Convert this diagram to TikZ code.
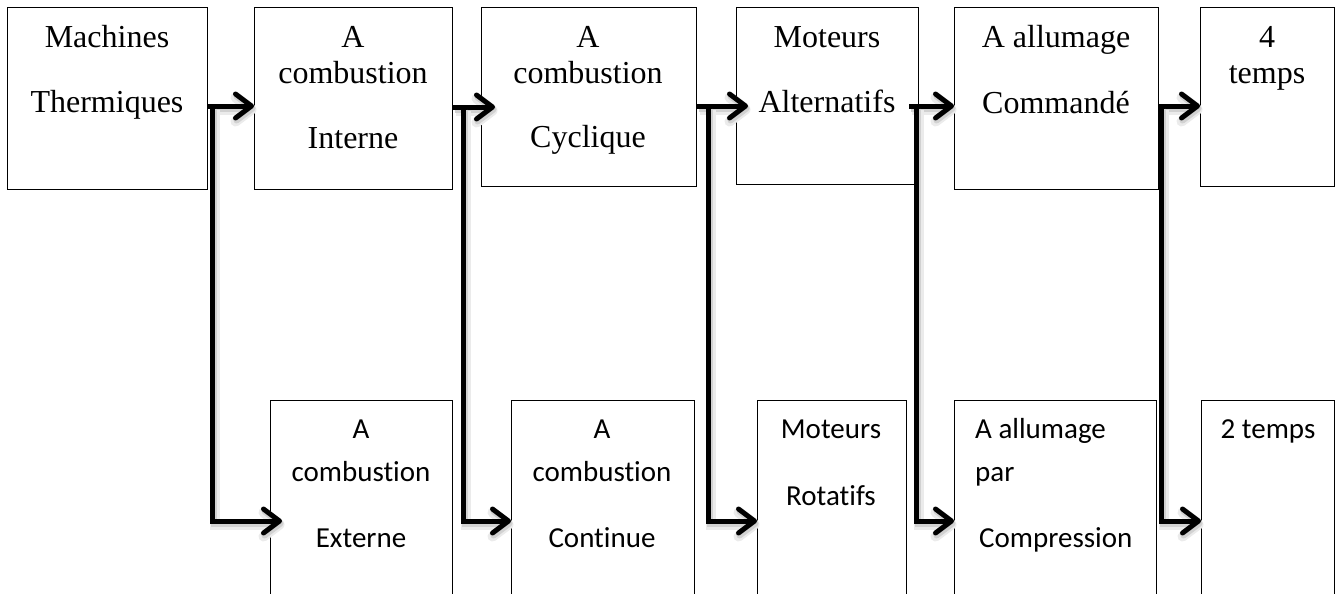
\documentclass[tikz,border=0pt]{standalone}
\usepackage{fontspec}
\setmainfont{Liberation Serif}
\newfontfamily\calib[Ligatures={NoCommon}]{Carlito}
\usetikzlibrary{arrows.meta}
\begin{document}
\begin{tikzpicture}[x=1pt,y=-1pt,
  box/.style={draw, line width=1pt, rectangle, inner sep=0pt, anchor=north west},
  st/.style={font=\fontsize{32}{36}\selectfont, anchor=base, inner sep=0pt},
  ss/.style={font=\calib\fontsize{29}{35}\selectfont, anchor=base, inner sep=0pt},
  ssl/.style={ss, anchor=base west},
  conn/.style={line width=5pt, -{Straight Barb[length=16pt,width=24pt,round]},
    preaction={draw=black!8, line width=10pt, transform canvas={shift={(2.5pt,-3.5pt)}}},
    preaction={draw=black!18, line width=6pt, transform canvas={shift={(1.5pt,-2.5pt)}}}}]
\useasboundingbox (0,0) rectangle (1341,594);
\clip (0,0) rectangle (1341,594);
\fill[white] (0,0) rectangle (1341,594);
% top boxes
\node[box, minimum width=200pt, minimum height=182pt] (T1) at (7,7) {};
\node[box, minimum width=198pt, minimum height=182pt] (T2) at (254,7) {};
\node[box, minimum width=215pt, minimum height=179pt] (T3) at (481,7) {};
\node[box, minimum width=182pt, minimum height=177pt] (T4) at (736,7) {};
\node[box, minimum width=204pt, minimum height=182pt] (T5) at (954,7) {};
\node[box, minimum width=134pt, minimum height=179pt] (T6) at (1200,7) {};
% bottom boxes
\node[box, minimum width=182pt, minimum height=230pt] (B1) at (270,400) {};
\node[box, minimum width=183pt, minimum height=230pt] (B2) at (511,400) {};
\node[box, minimum width=149pt, minimum height=230pt] (B3) at (757,400) {};
\node[box, minimum width=202pt, minimum height=230pt] (B4) at (954,400) {};
\node[box, minimum width=133pt, minimum height=230pt] (B5) at (1201,400) {};
% top texts
\node[st] (t1a) at (107,48) {Machines};
\node[st] (t1b) at (107,112) {Thermiques};
\node[st] (t2a) at (353,48) {A};
\node[st] (t2b) at (353,83) {combustion};
\node[st] (t2c) at (353,148) {Interne};
\node[st] (t3a) at (588,48) {A};
\node[st] (t3b) at (588,83) {combustion};
\node[st] (t3c) at (588,147) {Cyclique};
\node[st] (t4a) at (827,48) {Moteurs};
\node[st] (t4b) at (827,112) {Alternatifs};
\node[st] (t5a) at (1056,48) {A allumage};
\node[st] (t5b) at (1056,113) {Commandé};
\node[st] (t6a) at (1267,48) {4};
\node[st] (t6b) at (1267,83) {temps};
% bottom texts
\node[ss] (b1a) at (361,438) {A};
\node[ss] (b1b) at (361,481) {combustion};
\node[ss] (b1c) at (361,547) {Externe};
\node[ss] (b2a) at (602,438) {A};
\node[ss] (b2b) at (602,481) {combustion};
\node[ss] (b2c) at (602,547) {Continue};
\node[ss] (b3a) at (831,438) {Moteurs};
\node[ss] (b3b) at (831,505) {Rotatifs};
\node[ssl] (b4a) at (975,438) {A allumage};
\node[ssl] (b4b) at (975,481) {par};
\node[ssl] (b4c) at (979,547) {Compression};
\node[ss] (b5a) at (1268,438) {2 temps};
% junction coordinates
\coordinate (j1) at (212,106); \coordinate (k1) at (212,521);
\coordinate (j2) at (463,107); \coordinate (k2) at (463,521);
\coordinate (j3) at (708,106); \coordinate (k3) at (708,521);
\coordinate (j4) at (916,106); \coordinate (k4) at (916,521);
\coordinate (j5) at (1161,106); \coordinate (k5) at (1161,521);
% connectors
\draw[conn] (T1.east |- j1) -- (T2.west |- j1);
\draw[conn, shorten >=-12pt] (j1) -- (k1) -- (B1.west |- k1);
\draw[conn, shorten >=-14pt] (T2.east |- j2) -- (T3.west |- j2);
\draw[conn] (j2) -- (k2) -- (B2.west |- k2);
\draw[conn, shorten >=-12pt] (T3.east |- j3) -- (T4.west |- j3);
\draw[conn] (j3) -- (k3) -- (B3.west |- k3);
\draw[conn, shorten <=-10pt] (T4.east |- j4) -- (T5.west |- j4);
\draw[conn] (j4) -- (k4) -- (B4.west |- k4);
\draw[conn] (T5.east |- j5) -- (T6.west |- j5);
\draw[conn] (j5) -- (k5) -- (B5.west |- k5);
\end{tikzpicture}
\end{document}
